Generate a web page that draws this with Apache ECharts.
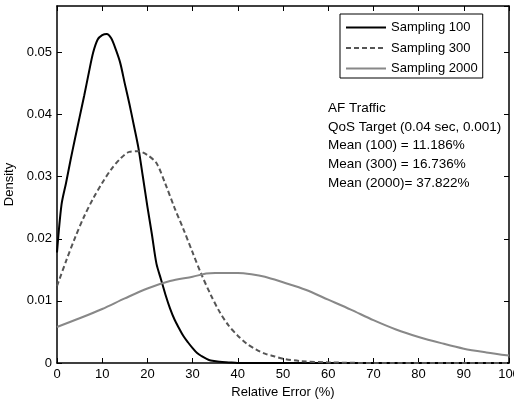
<!DOCTYPE html>
<html>
<head>
<meta charset="utf-8">
<script src="https://cdn.jsdelivr.net/npm/echarts@6/dist/echarts.min.js"></script>
<style>
  html, body { margin: 0; padding: 0; background: #fff; }
  #chart { width: 514px; height: 403px; }
</style>
</head>
<body>
<div id="chart"></div>
<script>
// relative error (%) sample points and density
var x100 = [0, 1, 2, 3, 4, 5, 6, 7, 8, 9, 10, 11, 12, 13, 14, 15, 16, 17, 18, 19, 20, 21, 22, 23, 24, 25, 26, 27, 28, 29, 30, 31, 32, 33, 34, 36, 38, 40, 100]
var y100 = [0.0178, 0.0255, 0.029, 0.0327, 0.0362, 0.0396, 0.043, 0.0466, 0.05, 0.0521, 0.0528, 0.053, 0.0523, 0.0505, 0.0483, 0.045, 0.0418, 0.0383, 0.0347, 0.030, 0.0252, 0.0207, 0.016, 0.0135, 0.011, 0.0088, 0.007, 0.0056, 0.0043, 0.0033, 0.0024, 0.0016, 0.0011, 0.0007, 0.0004, 0.0002, 0.0001, 0, 0]

var x300 = [0, 2, 4, 6, 8, 10, 12, 14, 16, 18, 20, 22, 24, 26, 28, 30, 32, 34, 36, 38, 40, 42, 44, 46, 48, 50, 54, 60, 70, 100]
var y300 = [0.0124, 0.0164, 0.0202, 0.0236, 0.0265, 0.029, 0.0312, 0.0329, 0.034, 0.0341, 0.0335, 0.0322, 0.0288, 0.025, 0.0215, 0.0178, 0.0142, 0.011, 0.0082, 0.006, 0.0044, 0.0031, 0.0022, 0.0015, 0.0011, 0.0007, 0.0003, 0.0001, 0, 0]

var x2000 = [0, 5, 10, 15, 20, 25, 30, 33, 35, 40, 43, 46, 50, 55, 60, 65, 70, 75, 80, 85, 90, 95, 100]
var y2000 = [0.0058, 0.0072, 0.0087, 0.0104, 0.012, 0.0132, 0.0139, 0.0144, 0.0145, 0.0145, 0.0143, 0.0139, 0.013, 0.0118, 0.0102, 0.0086, 0.0069, 0.0054, 0.0042, 0.0032, 0.0023, 0.0017, 0.0012]

var seriesNames = ["Sampling 100", "Sampling 300", "Sampling 2000"]
var noteLines = [
  "AF Traffic",
  "QoS Target (0.04 sec, 0.001)",
  "Mean (100) = 11.186%",
  "Mean (300) = 16.736%",
  "Mean (2000)= 37.822%"
]

function pairs(xs, ys) {
  return xs.map(function (v, i) { return [v, ys[i]] })
}

var font = "'Liberation Sans', Arial, Helvetica, sans-serif"
var axisLineStyle = { color: "#000", width: 1.5 }
var tickStyle = { show: true, inside: true, length: 5, lineStyle: { color: "#000", width: 1 } }

var chart = echarts.init(document.getElementById("chart"), null, { renderer: "canvas" })

chart.setOption({
  animation: false,
  textStyle: { fontFamily: font },
  // fixed box, the "100" label is allowed to run off the edge like the original
  grid: { left: 57, right: 5, top: 6, bottom: 40, outerBoundsMode: "none" },
  title: {
    text: noteLines.join("\n"),
    left: 323,
    top: 94,
    textStyle: { fontFamily: font, fontSize: 13.5, fontWeight: "normal", color: "#000", lineHeight: 18.7 }
  },
  legend: {
    orient: "vertical",
    left: 340,
    top: 14,
    padding: [7, 5, 3, 5],
    itemWidth: 40,
    itemHeight: 12,
    itemGap: 7.5,
    borderColor: "#000",
    borderWidth: 1,
    backgroundColor: "#fff",
    itemStyle: { opacity: 0 },
    textStyle: { fontFamily: font, fontSize: 13, color: "#000" },
    data: seriesNames
  },
  xAxis: [
    {
      type: "value",
      min: 0,
      max: 100,
      interval: 10,
      name: "Relative Error (%)",
      nameLocation: "middle",
      nameGap: 21,
      nameTextStyle: { fontFamily: font, fontSize: 13, color: "#000" },
      axisLine: { show: true, onZero: false, lineStyle: axisLineStyle },
      axisTick: tickStyle,
      axisLabel: { color: "#000", fontSize: 13, margin: 5 },
      splitLine: { show: false }
    },
    {
      type: "value",
      position: "top",
      min: 0,
      max: 100,
      interval: 10,
      axisLine: { show: true, onZero: false, lineStyle: axisLineStyle },
      axisTick: tickStyle,
      axisLabel: { show: false },
      splitLine: { show: false }
    }
  ],
  yAxis: [
    {
      type: "value",
      min: 0,
      max: 0.0575,
      interval: 0.01,
      name: "Density",
      nameLocation: "middle",
      nameGap: 41,
      nameTextStyle: { fontFamily: font, fontSize: 13, color: "#000" },
      axisLine: { show: true, onZero: false, lineStyle: axisLineStyle },
      axisTick: tickStyle,
      axisLabel: {
        color: "#000",
        fontSize: 13,
        margin: 5,
        showMaxLabel: false,
        formatter: function (v) { return v === 0 ? "0" : v.toFixed(2) }
      },
      splitLine: { show: false }
    },
    {
      type: "value",
      position: "right",
      min: 0,
      max: 0.0575,
      interval: 0.01,
      axisLine: { show: true, onZero: false, lineStyle: axisLineStyle },
      axisTick: tickStyle,
      axisLabel: { show: false },
      splitLine: { show: false }
    }
  ],
  series: [
    {
      name: seriesNames[0],
      type: "line",
      symbol: "none",
      smooth: 0.3,
      data: pairs(x100, y100),
      color: "#000",
      lineStyle: { color: "#000", width: 2 }
    },
    {
      name: seriesNames[1],
      type: "line",
      symbol: "none",
      smooth: 0.3,
      data: pairs(x300, y300),
      color: "#555",
      lineStyle: { color: "#555", width: 2, type: [5, 3] }
    },
    {
      name: seriesNames[2],
      type: "line",
      symbol: "none",
      smooth: 0.3,
      data: pairs(x2000, y2000),
      color: "#888",
      lineStyle: { color: "#888", width: 2 }
    }
  ]
})
</script>
</body>
</html>
